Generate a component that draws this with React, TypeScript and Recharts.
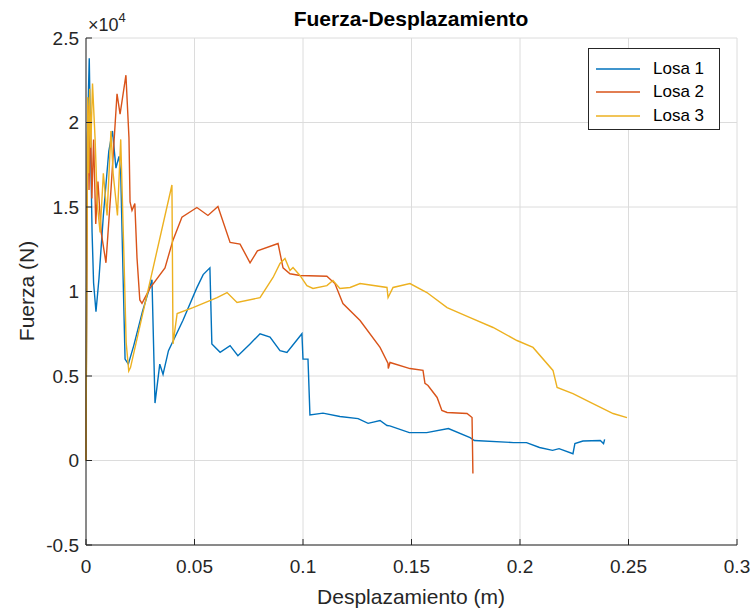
import React from 'react';
import { LineChart, Line, XAxis, YAxis, CartesianGrid, Legend } from 'recharts';

// axis ticks (fuerza in N, shown as x10^4)
const desplazamientoTicks = [0, 0.05, 0.1, 0.15, 0.2, 0.25, 0.3];
const fuerzaTicks = [-5000, 0, 5000, 10000, 15000, 20000, 25000];

// Losa 1
const losa1Desp = [
  0, 0.0004, 0.0008, 0.0015, 0.0022, 0.0028, 0.0035, 0.0046, 0.006, 0.008, 0.0105, 0.0122,
  0.0138, 0.0152, 0.016, 0.017, 0.018, 0.0195, 0.022, 0.026, 0.0304, 0.0318, 0.034, 0.0355,
  0.038, 0.0447, 0.051, 0.054, 0.0571, 0.058, 0.0618, 0.0664, 0.07, 0.0756, 0.0802, 0.0848,
  0.0894, 0.0926, 0.0995, 0.1, 0.1023, 0.1032, 0.1092, 0.117, 0.1254, 0.13, 0.1355, 0.1387,
  0.14, 0.149, 0.157, 0.167, 0.177, 0.179, 0.197, 0.203, 0.209, 0.215, 0.218, 0.2244,
  0.2253, 0.229, 0.237, 0.2385, 0.239,
];
const losa1Fuerza = [
  0, 14000, 20000, 23800, 18000, 13500, 10500, 8800, 10800, 14500, 18300, 19500,
  17300, 18000, 17000, 11400, 6000, 5700, 6800, 8800, 10700, 3400, 5700, 5100,
  6500, 8300, 10200, 11000, 11400, 6900, 6400, 6800, 6200, 6900, 7500, 7300,
  6500, 6400, 7500, 6000, 6000, 2700, 2800, 2600, 2480, 2200, 2370, 2070,
  2050, 1650, 1650, 1890, 1350, 1180, 1060, 1060, 770, 600, 700, 400,
  1000, 1150, 1180, 1000, 1250,
];

// Losa 2
const losa2Desp = [
  0, 0.0003, 0.0007, 0.001, 0.0014, 0.002, 0.0027, 0.0035, 0.0045, 0.0055, 0.007, 0.0092,
  0.0115, 0.0143, 0.0157, 0.0184, 0.0198, 0.0203, 0.0212, 0.0225, 0.0235, 0.0248, 0.0258, 0.0295,
  0.0364, 0.04, 0.0442, 0.0511, 0.0562, 0.0608, 0.0664, 0.071, 0.0756, 0.079, 0.0885, 0.0908,
  0.094, 0.0986, 0.111, 0.1147, 0.1184, 0.1263, 0.1355, 0.1392, 0.1393, 0.1401, 0.1493, 0.1553,
  0.1562, 0.1576, 0.1618, 0.164, 0.1664, 0.1756, 0.1779, 0.1783,
];
const losa2Fuerza = [
  0, 10000, 19000, 21000, 16000, 20500, 15500, 19000, 14000, 16500, 13500, 11700,
  16000, 21700, 20500, 22800, 19100, 15300, 14800, 15200, 12000, 9500, 9300, 10200,
  11400, 13000, 14400, 14970, 14500, 15030, 12900, 12800, 11700, 12400, 12840, 11400,
  11050, 10950, 10900, 10470, 9290, 8280, 6690, 5740, 5440, 5800, 5440, 5330,
  4560, 4440, 3730, 2960, 2840, 2780, 2540, -770,
];

// Losa 3
const losa3Desp = [
  0, 0.0004, 0.0008, 0.0012, 0.0017, 0.0022, 0.003, 0.0042, 0.0052, 0.0065, 0.008, 0.0097,
  0.0115, 0.0125, 0.0145, 0.016, 0.0175, 0.0185, 0.0197, 0.0205, 0.0396, 0.0401, 0.042, 0.0493,
  0.0604, 0.065, 0.0696, 0.0802, 0.0862, 0.0894, 0.0917, 0.094, 0.0954, 0.0986, 0.1018, 0.1046,
  0.111, 0.1138, 0.117, 0.1217, 0.1263, 0.1387, 0.1392, 0.1415, 0.1493, 0.1571, 0.1664, 0.177,
  0.1876, 0.1986, 0.206, 0.2152, 0.2171, 0.2244, 0.2336, 0.2429, 0.2493,
];
const losa3Fuerza = [
  0, 12000, 21500, 17000, 22000, 18500, 22300, 19000, 15200, 13500, 17000, 14500,
  19500, 17000, 14500, 19000, 12000, 7000, 5300, 5500, 16300, 6900, 8700, 9050,
  9640, 9940, 9350, 9640, 10830, 11660, 11950, 11240, 11420, 10950, 10350, 10180,
  10350, 10650, 10180, 10240, 10470, 10240, 9640, 10240, 10470, 9940, 9050, 8460,
  7870, 7100, 6690, 5330, 4320, 3960, 3370, 2780, 2540,
];

const toPoints = (xs: number[], ys: number[]) => xs.map((x, i) => ({ desp: x, fuerza: ys[i] }));

const series = [
  { name: 'Losa 1', color: '#0072BD', data: toPoints(losa1Desp, losa1Fuerza) },
  { name: 'Losa 2', color: '#D95319', data: toPoints(losa2Desp, losa2Fuerza) },
  { name: 'Losa 3', color: '#EDB120', data: toPoints(losa3Desp, losa3Fuerza) },
];

const axisColor = '#262626';
const font = '"Liberation Sans", Arial, Helvetica, sans-serif';

const renderLegend = (props: any) => (
  <div
    style={{
      border: `1px solid ${axisColor}`,
      background: '#fff',
      width: 132,
      height: 82,
      boxSizing: 'border-box',
      padding: '8px 0 0 7px',
      fontFamily: font,
    }}
  >
    {(props.payload || []).map((entry: any) => (
      <div key={entry.value} style={{ display: 'flex', alignItems: 'center', height: 23.5 }}>
        <svg width={44} height={4}>
          <line x1={0} y1={2} x2={44} y2={2} stroke={entry.color} strokeWidth={1.4} />
        </svg>
        <span style={{ marginLeft: 13, fontSize: 17, color: '#000' }}>{entry.value}</span>
      </div>
    ))}
  </div>
);

const App: React.FC = () => {
  return (
    <div style={{ position: 'absolute', left: 0, top: 0, width: 751, height: 611, background: '#fff', fontFamily: font }}>
      <LineChart width={751} height={611} margin={{ top: 38, right: 14, bottom: 16, left: 36 }}>
        <CartesianGrid stroke="#dcdcdc" />
        <XAxis
          dataKey="desp"
          type="number"
          domain={[0, 0.3]}
          ticks={desplazamientoTicks}
          height={50}
          tickSize={-6}
          tickMargin={21}
          axisLine={{ stroke: axisColor }}
          tickLine={{ stroke: axisColor }}
          tick={{ fill: axisColor, fontSize: 19 }}
        />
        <XAxis
          xAxisId="top"
          orientation="top"
          type="number"
          domain={[0, 0.3]}
          ticks={desplazamientoTicks}
          height={0}
          tickSize={-6}
          tick={false}
          axisLine={{ stroke: axisColor }}
          tickLine={{ stroke: axisColor }}
        />
        <YAxis
          type="number"
          domain={[-5000, 25000]}
          ticks={fuerzaTicks}
          width={50}
          tickSize={-6}
          tickMargin={13}
          tickFormatter={(v: number) => String(v / 10000)}
          axisLine={{ stroke: axisColor }}
          tickLine={{ stroke: axisColor }}
          tick={{ fill: axisColor, fontSize: 19 }}
        />
        <YAxis
          yAxisId="right"
          orientation="right"
          type="number"
          domain={[-5000, 25000]}
          ticks={fuerzaTicks}
          width={0}
          tickSize={-6}
          tick={false}
          axisLine={{ stroke: axisColor }}
          tickLine={{ stroke: axisColor }}
        />
        <Legend
          layout="vertical"
          align="center"
          verticalAlign="middle"
          wrapperStyle={{ left: 588, top: 48, width: 132 }}
          content={renderLegend}
        />
        {series.map((s) => (
          <Line
            key={s.name}
            data={s.data}
            dataKey="fuerza"
            name={s.name}
            type="linear"
            stroke={s.color}
            strokeWidth={1.4}
            dot={false}
            isAnimationActive={false}
          />
        ))}
      </LineChart>
      <svg
        width={751}
        height={611}
        style={{ position: 'absolute', left: 0, top: 0, pointerEvents: 'none' }}
      >
        <text x={411} y={26} textAnchor="middle" fontSize={21} fontWeight="bold" fill="#000">
          Fuerza-Desplazamiento
        </text>
        <text x={88} y={31} fontSize={18} fill={axisColor}>
          ×10<tspan dy={-9} fontSize={13}>4</tspan>
        </text>
        <text x={411} y={604} textAnchor="middle" fontSize={21} fill={axisColor}>
          Desplazamiento (m)
        </text>
        <text x={34} y={291} textAnchor="middle" fontSize={21} fill={axisColor} transform="rotate(-90 34 291)">
          Fuerza (N)
        </text>
      </svg>
    </div>
  );
};

export default App;
